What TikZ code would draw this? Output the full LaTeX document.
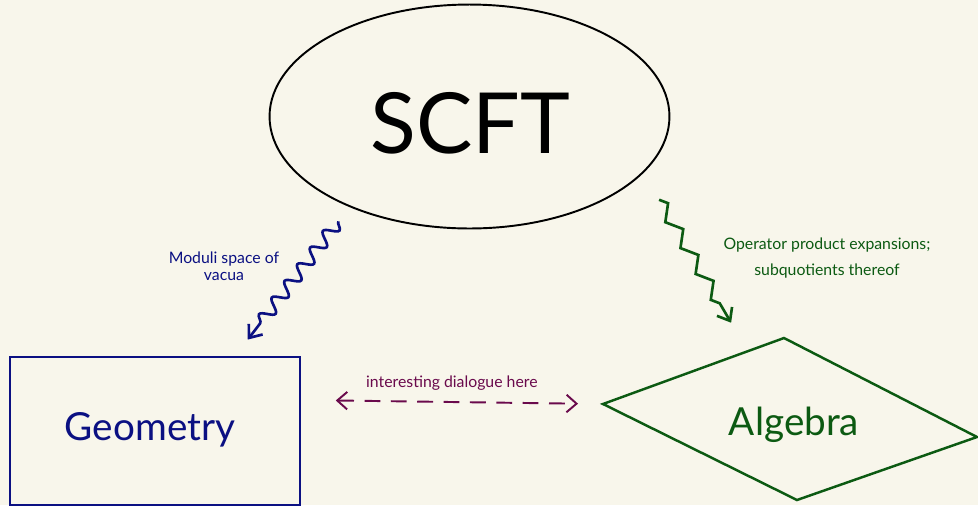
\documentclass[tikz,border=0pt]{standalone}
\usepackage{fontspec}
\setmainfont{Lato}
\usepackage{xcolor}
\usepackage{tikz}
\usetikzlibrary{arrows.meta, positioning, calc, shapes.geometric, decorations.pathmorphing}
\definecolor{paper}{HTML}{F8F6EB}
\definecolor{geomblue}{HTML}{0B1082}
\definecolor{alggreen}{HTML}{0C5A12}
\definecolor{talkplum}{HTML}{6A0A4C}
\tikzset{
  theory/.style  ={ellipse, draw=black, line width=1.1pt, inner sep=0pt,
                   minimum width=8cm, minimum height=4.48cm},
  geobox/.style  ={rectangle, draw=geomblue, line width=0.9pt,
                   minimum width=5.8cm, minimum height=2.96cm},
  bigword/.style ={font=\fontsize{22}{24}\selectfont},
  note/.style    ={font=\fontsize{9}{10}\selectfont, align=center},
  squiggle/.style={-{Straight Barb[length=2.2mm, width=3.5mm]}, line width=1.5pt,
                   decorate, decoration={snake, amplitude=0.13cm,
                   segment length=0.42cm, post length=2mm}},
  zigzagline/.style={-{Straight Barb[length=2.2mm, width=3.5mm]}, line width=1.5pt,
                   decorate, decoration={zigzag, amplitude=0.12cm,
                   segment length=0.6cm, post length=2mm}},
  talk/.style    ={{Straight Barb[length=2mm, width=3.5mm]}-{Straight Barb[length=2mm, width=3.5mm]},
                   line width=1.1pt, talkplum, dash pattern=on 9pt off 6pt}
}
\begin{document}
\begin{tikzpicture}[x=0.02cm, y=-0.02cm]
\fill[paper] (0,0) rectangle (978,505);
\useasboundingbox (0,0) rectangle (978,505);

% the three worlds
\node[theory] (scft) at (469.5,116.5) {};
\node[font=\fontsize{48}{52}\selectfont] (scftlbl) at (470,123) {SCFT};
\node[geobox] (geom) at (155,431) {};
\node[bigword, geomblue] (geomlbl) at (150,430) {Geometry};
\node[bigword, alggreen] (alg) at (794,425) {Algebra};

% slanted diamond round Algebra
\coordinate (algL) at (603,404);
\coordinate (algT) at (784,338);
\coordinate (algR) at (977,437);
\coordinate (algB) at (797,500);
\draw[alggreen, line width=1.4pt, line join=miter] (algL) -- (algT) -- (algR) -- (algB) -- cycle;

% SCFT -> Geometry
\coordinate (geomtop) at ([xshift=1.6cm]geom.north);
\path ($(scft.217)!0.36cm!(geomtop)$) coordinate (modS)
      ($(geomtop)!0.42cm!(scft.217)$) coordinate (modE);
\draw[squiggle, geomblue] (modS) -- (modE);
\node[note, geomblue, font=\fontsize{9}{9.5}\selectfont] (modlbl) at (224,266) {Moduli space of\\vacua};

% SCFT -> Algebra
\coordinate (algtop) at ($(algL)!0.8!(algT)$);
\path ($(scft.-18)!0.62cm!(algtop)$) coordinate (opeS)
      ($(algtop)!0.66cm!(scft.-18)$) coordinate (opeE);
\draw[zigzagline, alggreen] (opeS) -- (opeE);
\node[note, alggreen, font=\fontsize{9}{15}\selectfont] (opelbl) at (827,258)
     {Operator product expansions;\\subquotients thereof};

% Geometry <-> Algebra
\draw[talk, shorten <=0.7cm, shorten >=0.5cm] (geom.12) -- (algL)
     node[midway, above=3pt, note, talkplum] {interesting dialogue here};
\end{tikzpicture}
\end{document}
